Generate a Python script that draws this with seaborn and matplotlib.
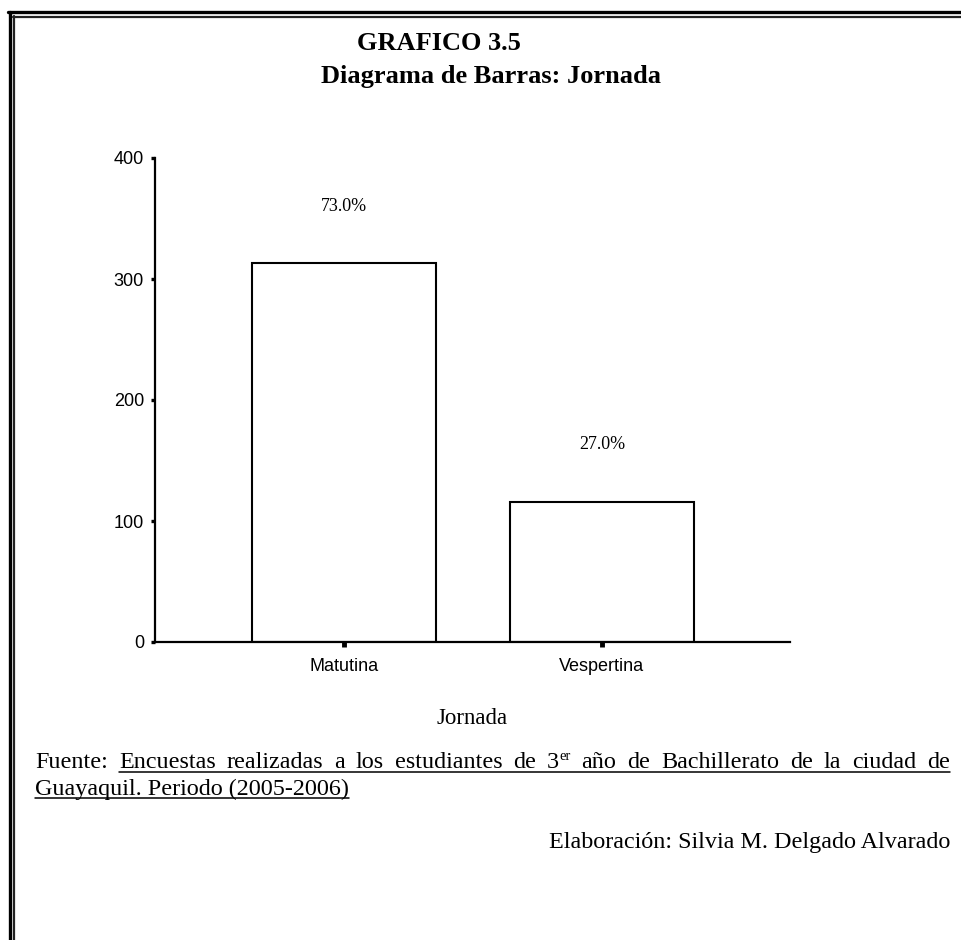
import matplotlib
matplotlib.use("Agg")
import matplotlib.pyplot as plt
import seaborn as sns
import pandas as pd
from matplotlib.lines import Line2D

# Data
categories = ['Matutina', 'Vespertina']
counts = [313, 116]
percent_labels = ['73.0%', '27.0%']
y_ticks = [0, 100, 200, 300, 400]

W, H = 962, 940
SERIF = 'Liberation Serif'
SANS = 'Liberation Sans'

sns.set_style('white')
plt.rcParams['font.family'] = [SANS, 'DejaVu Sans']
plt.rcParams['text.color'] = 'black'
plt.rcParams['xtick.color'] = 'black'
plt.rcParams['ytick.color'] = 'black'
plt.rcParams['axes.labelcolor'] = 'black'

fig = plt.figure(figsize=(W / 100, H / 100), dpi=100)


def fx(px):
    return px / W


def fy(py):
    return 1 - py / H


ax = fig.add_axes([fx(155), fy(642), fx(790) - fx(155), fy(158) - fy(642)])

df = pd.DataFrame({'Jornada': categories, 'Frecuencia': counts})
sns.barplot(data=df, x='Jornada', y='Frecuencia', color='white', saturation=1,
            edgecolor='black', linewidth=1.5, width=0.713, ax=ax)

ax.set_ylim(0, 400)
ax.set_xlim(-0.733, 1.729)
ax.set_yticks(y_ticks)
ax.set_xlabel('')
ax.set_ylabel('')
for s in ['top', 'right']:
    ax.spines[s].set_visible(False)
for s in ['left', 'bottom']:
    ax.spines[s].set_linewidth(1.6)
    ax.spines[s].set_color('black')
ax.tick_params(axis='y', direction='out', length=3, width=2.4, colors='black',
               labelsize=13, pad=5, left=True)
ax.tick_params(axis='x', direction='out', length=3.5, width=3.5, colors='black',
               labelsize=13, pad=8, bottom=True)

# percentage labels above bars
for i, (v, lab) in enumerate(zip(counts, percent_labels)):
    ax.annotate(lab, (i, v), xytext=(0, 41), textcoords='offset points',
                ha='center', va='center', fontsize=13, family=SERIF)

# titles
fig.text(fx(357), fy(50), 'GRAFICO 3.5', family=SERIF, weight='bold',
         fontsize=19, va='baseline', ha='left')
fig.text(fx(321), fy(83), 'Diagrama de Barras: Jornada', family=SERIF,
         weight='bold', fontsize=19, va='baseline', ha='left')

# axis label
fig.text(fx(472), fy(724), 'Jornada', family=SERIF, fontsize=16.5,
         va='baseline', ha='center')

# justified source line
fig.canvas.draw()
r = fig.canvas.get_renderer()
fs = 17.4
words = ['Fuente:', 'Encuestas', 'realizadas', 'a', 'los', 'estudiantes', 'de',
         '3', 'año', 'de', 'Bachillerato', 'de', 'la', 'ciudad', 'de']
x0, x1, base1 = 35, 950, 768
arts = []
widths = []
for w in words:
    t = fig.text(0, 0, w, family=SERIF, fontsize=fs, va='baseline')
    ext = t.get_window_extent(r)
    wd = ext.width
    if w == '3':
        sup = fig.text(0, 0, 'er', family=SERIF, fontsize=fs * 0.6, va='baseline')
        wd += sup.get_window_extent(r).width
        arts.append((t, sup))
    else:
        arts.append((t, None))
    widths.append(wd)
gap = (x1 - x0 - sum(widths)) / (len(words) - 1)
cx = x0
ul_start = None
for (t, sup), wd, w in zip(arts, widths, words):
    t.set_position((fx(cx), fy(base1)))
    if sup is not None:
        tw = t.get_window_extent(r).width
        sup.set_position((fx(cx + tw), fy(base1 - 8)))
    if w == 'Encuestas':
        ul_start = cx
    cx += wd + gap
fig.add_artist(Line2D([fx(ul_start), fx(x1)], [fy(772), fy(772)],
                      color='black', lw=1.1, transform=fig.transFigure))

t2 = fig.text(fx(35), fy(795), 'Guayaquil. Periodo (2005-2006)', family=SERIF,
              fontsize=fs, va='baseline', ha='left')
w2 = t2.get_window_extent(r).width
fig.add_artist(Line2D([fx(35), fx(35 + w2)], [fy(798), fy(798)],
                      color='black', lw=1.1, transform=fig.transFigure))

fig.text(fx(950), fy(848), 'Elaboración: Silvia M. Delgado Alvarado',
         family=SERIF, fontsize=fs, va='baseline', ha='right')

# double frame
for xv, lw, col in [(9.5, 2.4, 'black'), (14, 1.6, '#222222')]:
    fig.add_artist(Line2D([fx(xv), fx(xv)], [fy(xv + 2), 0], color=col, lw=lw,
                          transform=fig.transFigure))
for yv, xs, lw, col in [(12, 8, 2.4, 'black'), (17, 13, 1.6, '#222222')]:
    fig.add_artist(Line2D([fx(xs), 1], [fy(yv), fy(yv)], color=col, lw=lw,
                          transform=fig.transFigure))

fig.savefig('out.png', dpi=100, facecolor='white')
